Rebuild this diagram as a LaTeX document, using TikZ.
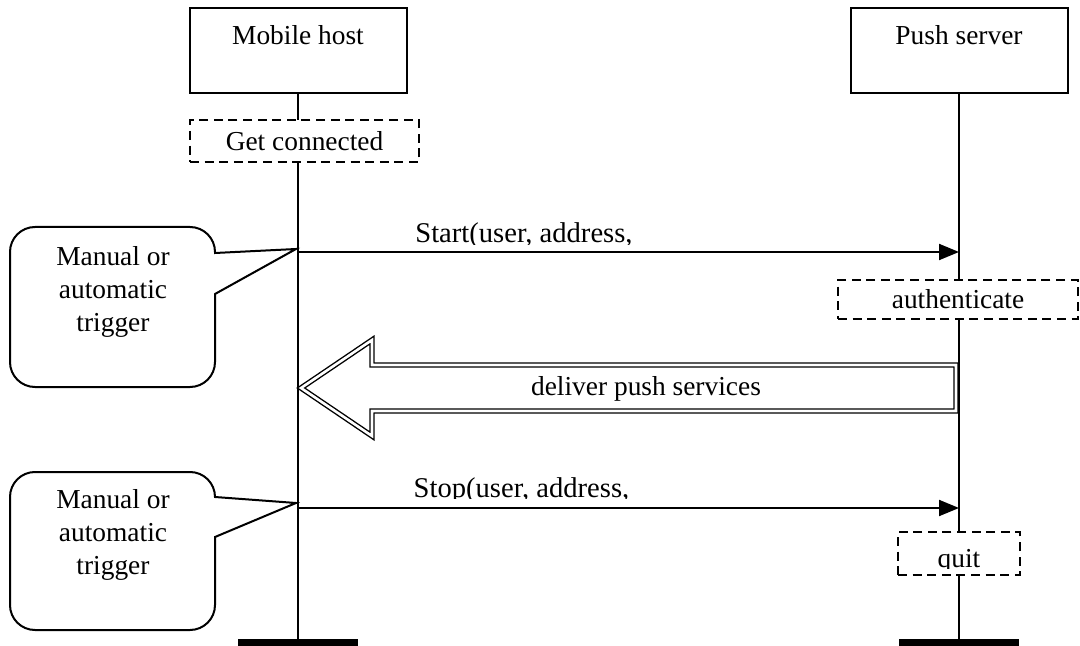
\documentclass[tikz,border=0pt]{standalone}
\usepackage{fontspec}
\setmainfont{Liberation Serif}
\usetikzlibrary{arrows.meta, shapes}
\usetikzlibrary{calc}
\usetikzlibrary{positioning}

\begin{document}
\begin{tikzpicture}[x=0.5pt, y=-0.5pt, font=\fontsize{13.7}{16.5}\selectfont]

\tikzset{
  % box at the head of a lifeline
  party/.style={draw, line width=1pt, minimum width=108.5pt, minimum height=42.5pt, inner sep=0pt},
  % foot of a lifeline
  foot/.style={fill=black, minimum width=60pt, minimum height=3.5pt, inner sep=0pt, anchor=north},
  % dashed box for a local step
  action/.style={draw, fill=white, line width=1.4pt, dash pattern=on 4.5pt off 2.8pt, inner sep=0pt},
  msg/.style={line width=1pt, -{Triangle[length=10pt, width=8pt]}},
  balloon/.style={draw, fill=white, line width=1pt},
}

\useasboundingbox (0,0) rectangle (1080,646);

% lifelines
\node[party] (mobile) at (298,50.5) {};
\node[party] (push) at (959,50.5) {};
\node[anchor=base] (mobilename) at (298,45) {Mobile host};
\node[anchor=base] (pushname) at (959,45) {Push server};
\node[foot] (mobilefoot) at (298,639) {};
\node[foot] (pushfoot) at (959,639) {};
\draw[line width=1pt] (mobile.south) -- (mobilefoot.north);
\draw[line width=1pt] (push.south) -- (pushfoot.north);

\node[action, minimum width=114.5pt, minimum height=21pt] (connect) at (304.5,141) {Get connected};
\node[action, minimum width=120pt, minimum height=19.5pt] (auth) at (958,299.5) {authenticate};
\node[action, minimum width=61pt, minimum height=21.5pt] (quitbox) at (959,553.5) {};
\begin{scope}
  \clip (900,534) rectangle (1018,568.5);
  \node[anchor=base] (quit) at (959,567) {quit};
\end{scope}

% start message
\coordinate (startfrom) at (298,252);
\coordinate (startto) at (959,252);
\draw[msg] (startfrom) -- (startto);
\begin{scope}
  \clip (380,200) rectangle (680,244.5);
  \node[anchor=base, font=\fontsize{14.3}{16.5}\selectfont] (startlbl) at (524,243) {Start(user, address,};
\end{scope}

% push services
\draw[line width=0.7pt, draw=black, double=white, double distance=1.3pt, fill=white]
  (956,365) -- (372,365) -- (372,340) -- (301,388) -- (372,436) -- (372,411) -- (956,411) -- cycle;
\node[anchor=base] (deliver) at (646,395) {deliver push services};

% stop message
\coordinate (stopfrom) at (298,508);
\coordinate (stopto) at (959,508);
\draw[msg] (stopfrom) -- (stopto);
\begin{scope}
  \clip (380,460) rectangle (680,498.5);
  \node[anchor=base, font=\fontsize{14.3}{16.5}\selectfont] (stoplbl) at (521.5,497) {Stop(user, address,};
\end{scope}

% trigger balloons
\coordinate (tipa) at (296,249);
\draw[balloon] (tipa) -- (215,294) [rounded corners=12.5pt] -- (215,387) -- (10,387)
  -- (10,227) -- (215,227) [sharp corners] -- (215,253) -- cycle;
\node[align=center] (triggera) at (113,291.5) {Manual or\\automatic\\trigger};

\coordinate (tipb) at (296,503);
\draw[balloon] (tipb) -- (215,537) [rounded corners=12.5pt] -- (215,630) -- (10,630)
  -- (10,472) -- (215,472) [sharp corners] -- (215,497) -- cycle;
\node[align=center] (triggerb) at (113,534.5) {Manual or\\automatic\\trigger};

\end{tikzpicture}
\end{document}
